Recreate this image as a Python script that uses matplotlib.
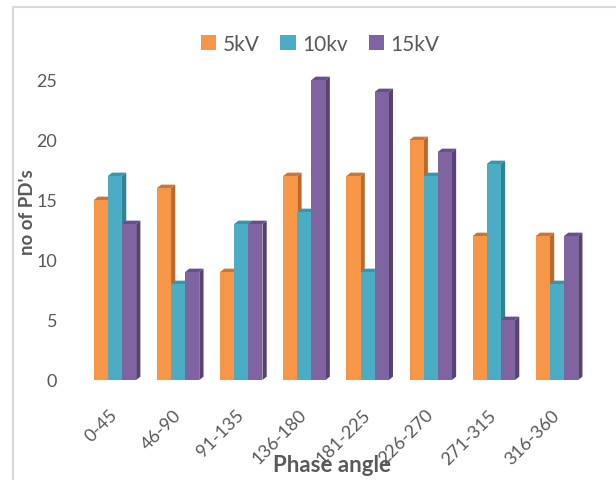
import numpy as np
import matplotlib
matplotlib.use('Agg')
import matplotlib.pyplot as plt
from matplotlib.patches import Polygon, Patch
from matplotlib.lines import Line2D

plt.rcParams['font.family'] = ['Lato', 'DejaVu Sans']

# datos
categorias = ['0-45', '46-90', '91-135', '136-180', '181-225', '226-270', '271-315', '316-360']
series = ['5kV', '10kv', '15kV']
v_5kv = [15, 16, 9, 17, 17, 20, 12, 12]
v_10kv = [17, 8, 13, 14, 9, 17, 18, 8]
v_15kv = [13, 9, 13, 25, 24, 19, 5, 12]
yticks = [0, 5, 10, 15, 20, 25]

colores = ['#F79646', '#4BACC6', '#8064A2']
lados = ['#B8692B', '#2F8296', '#574274']
tapas = ['#C7773A', '#3A95AB', '#66508A']

gris = '#595959'

fig = plt.figure(figsize=(6.16, 4.81), dpi=100)
ax = fig.add_axes([83.4 / 616, 100 / 481, 505.2 / 616, (26.5 * 12.0) / 481])

x = np.arange(len(categorias))
ancho = 0.2236
dx = 0.067
dy = 0.28

for i, (vals, c, cl, ct) in enumerate(zip([v_5kv, v_10kv, v_15kv], colores, lados, tapas)):
    pos = x + (i - 1) * ancho
    barras = ax.bar(pos, vals, width=ancho, color=c, zorder=2 + 3 * i, linewidth=0)
    for b in barras:
        x0 = b.get_x()
        x1 = x0 + b.get_width()
        h = b.get_height()
        lado = Polygon([(x1, 0), (x1 + dx, dy), (x1 + dx, h + dy), (x1, h)],
                       closed=True, facecolor=cl, edgecolor='none', zorder=1 + 3 * i)
        tapa = Polygon([(x0, h), (x0 + dx, h + dy), (x1 + dx, h + dy), (x1, h)],
                       closed=True, facecolor=ct, edgecolor='none', zorder=1 + 3 * i)
        ax.add_patch(lado)
        ax.add_patch(tapa)

ax.set_xlim(-0.5, 7.5)
ax.set_ylim(0, 26.5)
ax.set_yticks(yticks)
ax.set_yticklabels([str(t) for t in yticks], fontsize=13, color=gris)
ax.set_xticks(x)
ax.set_xticklabels(categorias, fontsize=13, color=gris, rotation=45,
                   ha='right', va='center', rotation_mode='anchor')
ax.tick_params(axis='y', length=0, pad=19)
ax.tick_params(axis='x', length=0, pad=23)
for s in ax.spines.values():
    s.set_visible(False)

ax.set_ylabel("no of PD's", fontsize=13.5, fontweight='bold', color=gris)
ax.yaxis.set_label_coords(-(83.4 - 36) / 505.2, (381 - 212) / (26.5 * 12.0))
fig.text(332 / 616, 1 - 466 / 481, 'Phase angle', fontsize=16, fontweight='bold',
         color=gris, ha='center', va='center')

handles = [Patch(facecolor=c, edgecolor='none', label=s) for c, s in zip(colores, series)]
fig.legend(handles=handles, loc='center', bbox_to_anchor=(320 / 616, 1 - 45 / 481), ncol=3,
           frameon=False, fontsize=15, handlelength=0.75, handleheight=0.75,
           handletextpad=0.3, columnspacing=1.0, labelcolor=gris)

# marco del area del grafico
fig.add_artist(Line2D([12.5 / 616, 12.5 / 616], [0, 1 - 7.5 / 481], color='#D9D9D9', lw=1.5))
fig.add_artist(Line2D([12.5 / 616, 1], [1 - 7.5 / 481, 1 - 7.5 / 481], color='#D9D9D9', lw=1.5))

fig.savefig('out.png', dpi=100)
